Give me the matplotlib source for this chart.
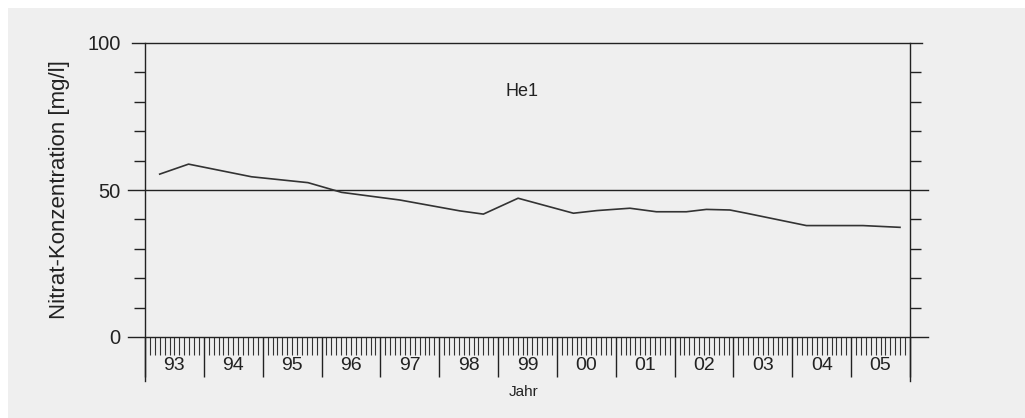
import matplotlib
matplotlib.use("Agg")
import matplotlib.pyplot as plt
import matplotlib.transforms as mtransforms
from matplotlib.patches import Rectangle
import numpy as np

plt.rcParams['font.family'] = ['Liberation Sans', 'DejaVu Sans']

# ---- data ----
years = ['93', '94', '95', '96', '97', '98', '99', '00', '01', '02', '03', '04', '05']
year_start = 1993
dates = [1993.25, 1993.74, 1994.81, 1995.77, 1996.34, 1996.91, 1997.33, 1998.35,
         1998.75, 1999.34, 2000.28, 2000.68, 2001.24, 2001.69, 2002.20, 2002.54,
         2002.94, 2003.22, 2004.24, 2005.20, 2005.83]
nitrat = [55.4, 58.8, 54.5, 52.5, 49.2, 47.7, 46.6, 42.9,
          41.8, 47.2, 42.1, 43.0, 43.8, 42.6, 42.6, 43.4,
          43.2, 42.1, 37.9, 37.9, 37.3]
limit_value = 50
y_major = [0, 50, 100]
y_minor = [10, 20, 30, 40, 60, 70, 80, 90]
station = 'He1'

W, H = 1025, 418
fig = plt.figure(figsize=(W / 100, H / 100), dpi=100, facecolor='white')
fig.patches.append(Rectangle((8 / W, 0 / H), 1 - 8 / W, 1 - 8 / H,
                             transform=fig.transFigure, facecolor='#efefef',
                             edgecolor='none', zorder=-10))

ax = fig.add_axes([145 / W, 1 - 337 / H, (910 - 145) / W, (337 - 43) / H])
ax.set_facecolor('none')
x0, x1 = year_start, year_start + len(years)
ax.set_xlim(x0, x1)
ax.set_ylim(0, 100)

axis_col = '#222222'
for s in ['top', 'bottom']:
    ax.spines[s].set_visible(False)
for s in ['left', 'right']:
    ax.spines[s].set_color(axis_col)
    ax.spines[s].set_linewidth(1.0)
    ax.spines[s].set_bounds(-15, 100)

# horizontal lines at 0, 50, 100 extending beyond the axes
for v in y_major:
    left = -17 / 765 if v != 100 else -13 / 765
    right = 1 + (18 / 765 if v != 100 else 12 / 765)
    ax.plot([left, right], [v, v], transform=ax.get_yaxis_transform(),
            color=axis_col, lw=1.0, clip_on=False)

# y ticks
ax.set_yticks(y_major)
ax.set_yticklabels([str(v) for v in y_major])
ax.set_yticks(y_minor, minor=True)
ax.tick_params(axis='y', which='major', left=False, right=False, pad=14,
               labelsize=14.5, labelcolor='#222222')
ax.tick_params(axis='y', which='minor', left=True, right=True, direction='out',
               length=8, width=1.0, color=axis_col)

# x ticks: year boundaries long, months short
ax.set_xticks([year_start + i for i in range(len(years) + 1)])
ax.set_xticklabels([])
ax.set_xticks([year_start + i + m / 12 for i in range(len(years)) for m in range(1, 12)],
              minor=True)
ax.tick_params(axis='x', which='major', bottom=True, direction='out', length=29,
               width=1.0, color=axis_col)
ax.tick_params(axis='x', which='minor', bottom=True, direction='out', length=13,
               width=0.8, color='#333333')

trans = mtransforms.blended_transform_factory(ax.transData, ax.transAxes)
for i, lab in enumerate(years):
    ax.text(year_start + i + 0.5, -28 / 294, lab, transform=trans, ha='center',
            va='center', fontsize=14, color='#222222')

ax.text(0.495, -55 / 294, 'Jahr', transform=ax.transAxes, ha='center',
        va='center', fontsize=11, color='#222222')
fig.text(60 / W, 1 - 190 / H, 'Nitrat-Konzentration [mg/l]', rotation=90,
         ha='center', va='center', fontsize=16, color='#222222')
ax.text(522 / W, 1 - 92 / H, station, transform=fig.transFigure, ha='center',
        va='center', fontsize=13, color='#222222')

ax.plot(dates, nitrat, color='#333333', lw=1.2, zorder=3)

fig.savefig('out.png', dpi=100, facecolor=fig.get_facecolor())
